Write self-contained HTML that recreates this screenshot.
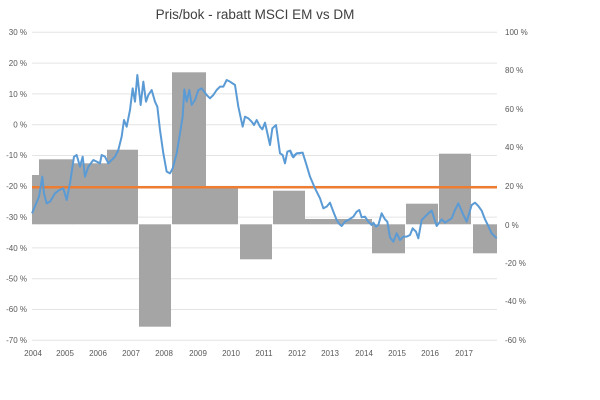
<!DOCTYPE html>
<html><head><meta charset="utf-8"><style>
body{margin:0;background:#fff;}
svg{display:block;font-family:"Liberation Sans",sans-serif;}
</style></head><body>
<svg width="600" height="400" viewBox="0 0 600 400">
<text x="255" y="19" font-size="13.5" fill="#404040" text-anchor="middle">Pris/bok - rabatt MSCI EM vs DM</text>
<g stroke="#e4e4e4" stroke-width="1">
<line x1="32" x2="497" y1="32.3" y2="32.3"/><line x1="32" x2="497" y1="63.1" y2="63.1"/>
<line x1="32" x2="497" y1="93.9" y2="93.9"/><line x1="32" x2="497" y1="124.7" y2="124.7"/>
<line x1="32" x2="497" y1="155.5" y2="155.5"/><line x1="32" x2="497" y1="186.3" y2="186.3"/>
<line x1="32" x2="497" y1="217.1" y2="217.1"/><line x1="32" x2="497" y1="247.9" y2="247.9"/>
<line x1="32" x2="497" y1="278.7" y2="278.7"/><line x1="32" x2="497" y1="309.5" y2="309.5"/>
<line x1="32" x2="497" y1="340.3" y2="340.3"/>
</g>
<g fill="#a5a5a5">
<rect x="32" y="175" width="7.5" height="49.3"/>
<rect x="39" y="159.3" width="33.5" height="65"/>
<rect x="72" y="163.3" width="35.5" height="61"/>
<rect x="107" y="149.7" width="31" height="74.6"/>
<rect x="139" y="224.3" width="32" height="102.4"/>
<rect x="172" y="72.3" width="34" height="152"/>
<rect x="206" y="188.3" width="32" height="36"/>
<rect x="240" y="224.3" width="32" height="35"/>
<rect x="273" y="190.7" width="32" height="33.6"/>
<rect x="305" y="219" width="67" height="5.3"/>
<rect x="372" y="224.3" width="33" height="29"/>
<rect x="406" y="203.7" width="32" height="20.6"/>
<rect x="439" y="153.7" width="32" height="70.6"/>
<rect x="473" y="224.3" width="24" height="29"/>
</g>
<line x1="32" x2="497" y1="187.3" y2="187.3" stroke="#ed7d31" stroke-width="2.5"/>
<g fill="none" stroke="#5b9bd5" stroke-width="6" stroke-linejoin="round">
<polyline transform="translate(0,20) scale(0.33333)" points="96,580 117,530 127,470 132,520 140,550 150,545 165,520 178,510 190,505 200,540 210,490 222,410 230,405 240,440 248,410 255,470 265,440 280,420 290,425 300,430 305,405 315,410 325,430 335,420 345,410 355,390 365,350 372,300 380,320 390,270 398,205 405,245 412,165 422,255 430,185 438,245 445,225 455,210 465,245 472,260 480,330 490,400 500,455 510,460 518,445 530,400 540,340 548,290 553,208 560,245 568,210 575,255 585,240 595,210 605,205 620,225 630,235 640,225 650,210 660,200 670,200 680,180 690,185 705,195 715,260 728,320 735,290 745,295 755,305 762,315 770,300 780,320 787,328 795,308 800,330 810,375 817,325 828,315 840,400 848,405 855,430 862,395 870,392 878,410 890,400 900,400 903,398"/>
<polyline transform="translate(290,20) scale(0.33333)" points="0,390 10,412 20,400 38,398 48,430 60,470 75,505 90,535 100,565 110,560 120,548 130,575 140,600 148,612 155,618 165,605 175,600 190,590 200,575 208,570 215,592 225,590 235,605 245,615 250,608 258,620 265,615 275,580 285,598 292,605 300,652 310,665 320,640 330,660 340,650 350,650 360,645 368,625 378,635 385,655 395,600 405,590 415,580 425,572 440,618 455,598 465,608 485,595 495,570 505,550 518,580 530,605 545,555 555,548 565,558 575,572 585,598 595,618 605,640 620,655"/>
</g>
<g font-size="8" fill="#595959" text-anchor="end">
<text x="27" y="35">30 %</text><text x="27" y="66">20 %</text><text x="27" y="97">10 %</text>
<text x="27" y="127.5">0 %</text><text x="27" y="158">-10 %</text><text x="27" y="189">-20 %</text>
<text x="27" y="220">-30 %</text><text x="27" y="251">-40 %</text><text x="27" y="281.5">-50 %</text>
<text x="27" y="312">-60 %</text><text x="27" y="343">-70 %</text>
</g>
<g font-size="8" fill="#595959">
<text x="505" y="35">100 %</text><text x="505" y="73">80 %</text><text x="505" y="112">60 %</text>
<text x="505" y="150">40 %</text><text x="505" y="189">20 %</text><text x="505" y="228">0 %</text>
<text x="505" y="266">-20 %</text><text x="505" y="304">-40 %</text><text x="505" y="343">-60 %</text>
</g>
<g font-size="8" fill="#595959" text-anchor="middle">
<text x="33" y="356">2004</text><text x="65" y="356">2005</text><text x="98" y="356">2006</text>
<text x="131" y="356">2007</text><text x="164" y="356">2008</text><text x="198" y="356">2009</text>
<text x="231" y="356">2010</text><text x="264" y="356">2011</text><text x="297" y="356">2012</text>
<text x="330" y="356">2013</text><text x="364" y="356">2014</text><text x="397" y="356">2015</text>
<text x="430" y="356">2016</text><text x="464" y="356">2017</text>
</g>
</svg>
</body></html>
